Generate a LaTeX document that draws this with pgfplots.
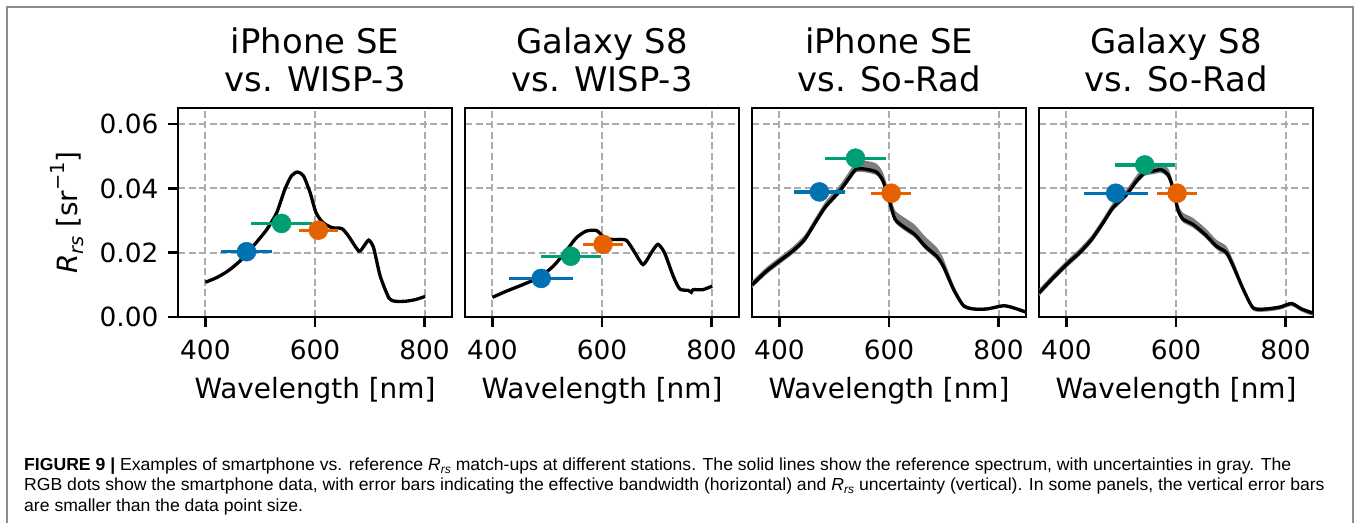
\documentclass[border=0pt]{standalone}
\usepackage{pgfplots}
\pgfplotsset{compat=1.18}
\usepackage{pgfplotstable}
\usepackage{fontspec}
\setmainfont{DejaVu Sans}
\newfontfamily\capfont[FakeStretch=1.01]{Liberation Sans}

\definecolor{cbblue}{RGB}{0,114,178}
\definecolor{cbgreen}{RGB}{0,158,115}
\definecolor{cborange}{RGB}{230,97,0}
\definecolor{bandgray}{RGB}{125,125,125}
\definecolor{gridgray}{RGB}{172,172,172}
\definecolor{framegray}{RGB}{140,140,140}

% iPhone SE vs WISP-3
\pgfplotstableread{
x y
400 0.0108
420 0.0122
441 0.0143
463 0.0174
487 0.0220
512 0.0272
530 0.0324
545 0.0397
557 0.0439
568 0.0451
579 0.0439
591 0.0387
602 0.0324
615 0.0293
631 0.0278
649 0.0275
661 0.0252
680 0.0205
689 0.0220
698 0.0239
707 0.0215
719 0.0127
735 0.0059
746 0.0049
765 0.0049
783 0.0054
801 0.0064
}\specA
% Galaxy S8 vs WISP-3
\pgfplotstableread{
x y
400 0.0061
425 0.0080
456 0.0101
486 0.0124
511 0.0158
532 0.0200
553 0.0246
571 0.0267
590 0.0269
605 0.0246
620 0.0241
644 0.0239
660 0.0200
675 0.0163
690 0.0200
702 0.0226
714 0.0200
730 0.0127
742 0.0087
757 0.0083
763 0.0077
766 0.0085
784 0.0085
801 0.0096
}\specB
% iPhone SE vs So-Rad
\pgfplotstableread{
x y
350 0.0100
376 0.0142
400 0.0174
424 0.0205
446 0.0241
467 0.0298
485 0.0345
510 0.0392
528 0.0434
540 0.0460
556 0.0460
577 0.0451
589 0.0423
601.5 0.0356
611 0.0304
629 0.0278
647 0.0257
666 0.0220
687 0.0189
699 0.0158
718 0.0085
736 0.0035
754 0.0025
779 0.0025
809 0.0035
828 0.0028
850 0.0015
}\specC
% uncertainty band (upper edge, then lower edge reversed)
\pgfplotstableread{
x y
350 0.0112
376 0.0154
400 0.0186
424 0.0218
446 0.0255
467 0.0313
485 0.0361
510 0.0410
528 0.0454
540 0.0484
556 0.0486
577 0.0477
589 0.0449
601.5 0.0384
611 0.0332
629 0.0308
647 0.0287
666 0.0250
687 0.0217
699 0.0183
718 0.0100
736 0.0043
754 0.0030
779 0.0030
809 0.0040
828 0.0033
850 0.0020
850 0.0011
828 0.0024
809 0.0031
779 0.0021
754 0.0021
736 0.0030
718 0.0077
699 0.0148
687 0.0179
666 0.0210
647 0.0247
629 0.0268
611 0.0294
601.5 0.0346
589 0.0413
577 0.0441
556 0.0450
540 0.0450
528 0.0424
510 0.0382
485 0.0335
467 0.0288
446 0.0231
424 0.0195
400 0.0164
376 0.0132
350 0.0090
}\bandC
% Galaxy S8 vs So-Rad
\pgfplotstableread{
x y
350 0.0075
376 0.0122
400 0.0163
424 0.0200
446 0.0241
467 0.0293
485 0.0340
510 0.0382
528 0.0423
543 0.0449
558 0.0454
573.5 0.0458
586 0.0441
595 0.0397
604 0.0330
613 0.0304
631 0.0288
653 0.0257
674 0.0220
692 0.0200
707 0.0148
723 0.0085
741 0.0028
765 0.0025
790 0.0031
811 0.0042
829 0.0025
850 0.0012
}\specD
\pgfplotstableread{
x y
350 0.0087
376 0.0134
400 0.0175
424 0.0213
446 0.0254
467 0.0307
485 0.0355
510 0.0398
528 0.0441
543 0.0469
558 0.0474
573.5 0.0478
586 0.0461
595 0.0417
604 0.0350
613 0.0324
631 0.0308
653 0.0277
674 0.0240
692 0.0220
707 0.0166
723 0.0095
741 0.0034
765 0.0030
790 0.0036
811 0.0047
829 0.0030
850 0.0017
850 0.0004
829 0.0017
811 0.0034
790 0.0023
765 0.0017
741 0.0020
723 0.0077
707 0.0138
692 0.0190
674 0.0210
653 0.0247
631 0.0278
613 0.0294
604 0.0320
595 0.0387
586 0.0431
573.5 0.0448
558 0.0444
543 0.0439
528 0.0413
510 0.0372
485 0.0330
467 0.0283
446 0.0231
424 0.0190
400 0.0153
376 0.0112
350 0.0065
}\bandD

\pgfplotsset{
  panel/.style={
    scale only axis, width=274bp, height=209bp,
    xmin=350, xmax=850, ymin=0, ymax=0.065,
    xtick={400,600,800}, ytick={0,0.02,0.04,0.06},
    scaled y ticks=false,
    grid=major,
    grid style={gridgray, line width=2bp, dash pattern=on 7bp off 3.5bp},
    axis line style={line width=2.6bp},
    tick style={line width=2.6bp, black},
    major tick length=10bp,
    tick align=outside,
    xtick pos=lower, ytick pos=left,
    tick label style={font=\fontsize{26.5}{30}\selectfont},
    xticklabel shift=9bp, yticklabel shift=6bp,
    /pgf/number format/assume math mode=true,
    xlabel={Wavelength [nm]},
    xlabel style={font=\fontsize{28}{32}\selectfont, at={(axis description cs:0.5,0)}, anchor=base, yshift=-81bp},
  },
  spec/.style={black, line width=3.3bp, smooth, tension=0.4},
  band/.style={fill=bandgray, draw=none, smooth, tension=0.4},
  ebar/.style={#1, only marks, mark=none, error bars/.cd, x dir=both, x explicit, error mark=none,
    error bar style={line width=3.3bp, solid, #1}},
  dot/.style={only marks, mark=*, mark size=9.5bp, mark options={draw=#1, fill=#1, line width=0.5bp}},
}
\newcommand{\titlefont}{\fontsize{34}{38}\selectfont}

\begin{document}
\begin{tikzpicture}
\useasboundingbox (0bp,0bp) rectangle (1356bp,-523bp);
\draw[framegray, line width=1.3bp] (7bp,-523bp) -- (7bp,-7bp) -- (1353bp,-7bp) -- (1353bp,-523bp);

% Panel 1
\begin{axis}[panel, name=ax1, at={(178bp,-317bp)}, anchor=south west,
  yticklabels={0.00,0.02,0.04,0.06},
  ylabel={\itshape R\raisebox{-0.22em}{\fontsize{19.5}{20}\selectfont rs} \upshape[sr\raisebox{0.45em}{\fontsize{19.5}{20}\selectfont −1}]},
  ylabel style={at={([xshift=-111bp]axis description cs:0,0.5)}, anchor=center, font=\fontsize{28}{32}\selectfont}]
\addplot[spec] table[x=x,y=y] {\specA};
\addplot[ebar=cbblue] coordinates {(475,0.0203) +- (46,0)};
\addplot[dot=cbblue] coordinates {(475,0.0203)};
\addplot[ebar=cbgreen] coordinates {(539,0.0291) +- (55,0)};
\addplot[dot=cbgreen] coordinates {(539,0.0291)};
\addplot[ebar=cborange] coordinates {(606,0.0270) +- (36,0)};
\addplot[dot=cborange] coordinates {(606,0.0270)};
\end{axis}
\node[font=\titlefont, anchor=base] at ([yshift=55bp]ax1.north) {iPhone SE};
\node[font=\titlefont, anchor=base] at ([yshift=17bp]ax1.north) {vs. WISP-3};

% Panel 2
\begin{axis}[panel, name=ax2, at={(465bp,-317bp)}, anchor=south west,
  yticklabels={}, ytick style={draw=none}]
\addplot[spec] table[x=x,y=y] {\specB};
\addplot[ebar=cbblue] coordinates {(489,0.0120) +- (58,0)};
\addplot[dot=cbblue] coordinates {(489,0.0120)};
\addplot[ebar=cbgreen] coordinates {(543,0.0189) +- (55,0)};
\addplot[dot=cbgreen] coordinates {(543,0.0189)};
\addplot[ebar=cborange] coordinates {(602,0.0226) +- (37,0)};
\addplot[dot=cborange] coordinates {(602,0.0226)};
\end{axis}
\node[font=\titlefont, anchor=base] at ([yshift=55bp]ax2.north) {Galaxy S8};
\node[font=\titlefont, anchor=base] at ([yshift=17bp]ax2.north) {vs. WISP-3};

% Panel 3
\begin{axis}[panel, name=ax3, at={(752bp,-317bp)}, anchor=south west,
  yticklabels={}, ytick style={draw=none}]
\addplot[band] table[x=x,y=y] {\bandC};
\addplot[spec] table[x=x,y=y] {\specC};
\addplot[ebar=cbblue] coordinates {(473,0.0389) +- (47,0)};
\addplot[dot=cbblue] coordinates {(473,0.0389)};
\addplot[ebar=cbgreen] coordinates {(539,0.0494) +- (55,0)};
\addplot[dot=cbgreen] coordinates {(539,0.0494)};
\addplot[ebar=cborange] coordinates {(604,0.0385) +- (36,0)};
\addplot[dot=cborange] coordinates {(604,0.0385)};
\end{axis}
\node[font=\titlefont, anchor=base] at ([yshift=55bp]ax3.north) {iPhone SE};
\node[font=\titlefont, anchor=base] at ([yshift=17bp]ax3.north) {vs. So-Rad};

% Panel 4
\begin{axis}[panel, name=ax4, at={(1039bp,-317bp)}, anchor=south west,
  yticklabels={}, ytick style={draw=none}]
\addplot[band] table[x=x,y=y] {\bandD};
\addplot[spec] table[x=x,y=y] {\specD};
\addplot[ebar=cbblue] coordinates {(490,0.0385) +- (58,0)};
\addplot[dot=cbblue] coordinates {(490,0.0385)};
\addplot[ebar=cbgreen] coordinates {(543,0.0473) +- (55,0)};
\addplot[dot=cbgreen] coordinates {(543,0.0473)};
\addplot[ebar=cborange] coordinates {(602,0.0385) +- (37,0)};
\addplot[dot=cborange] coordinates {(602,0.0385)};
\end{axis}
\node[font=\titlefont, anchor=base] at ([yshift=55bp]ax4.north) {Galaxy S8};
\node[font=\titlefont, anchor=base] at ([yshift=17bp]ax4.north) {vs. So-Rad};

% Caption
\begin{scope}[every node/.style={anchor=base west, inner sep=0pt, font=\capfont\fontsize{17.5}{21}\selectfont}]
\node at (24bp,-470bp) {\textbf{FIGURE 9 |} Examples of smartphone vs. reference {\itshape R}\raisebox{-0.2em}{\fontsize{12}{12}\selectfont\itshape rs} match-ups at different stations. The solid lines show the reference spectrum, with uncertainties in gray. The};
\node at (24bp,-490.5bp) {RGB dots show the smartphone data, with error bars indicating the effective bandwidth (horizontal) and {\itshape R}\raisebox{-0.2em}{\fontsize{12}{12}\selectfont\itshape rs} uncertainty (vertical). In some panels, the vertical error bars};
\node at (24bp,-511bp) {are smaller than the data point size.};
\end{scope}
\end{tikzpicture}
\end{document}
